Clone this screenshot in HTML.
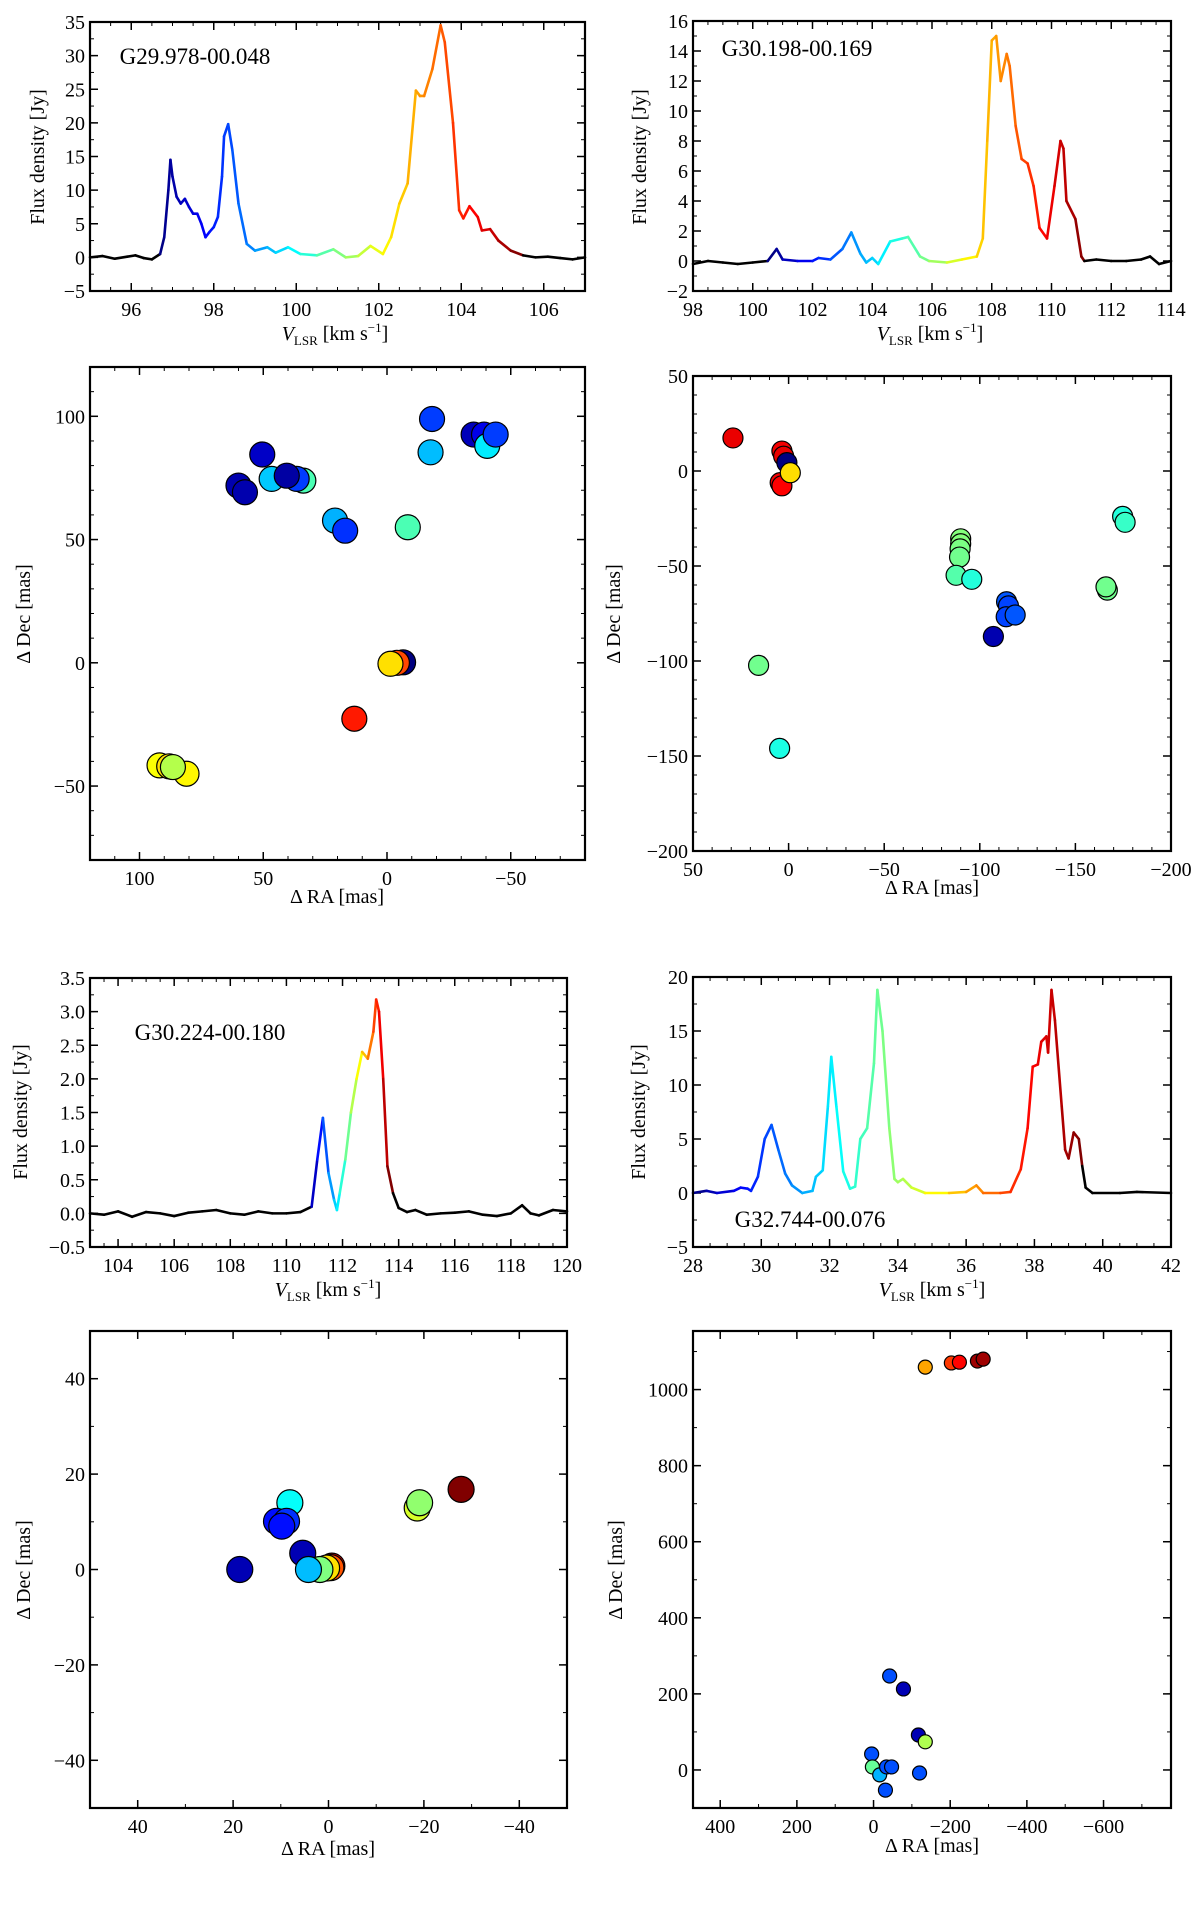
<!DOCTYPE html>
<html><head><meta charset="utf-8"><style>
html,body{margin:0;padding:0;background:#fff;}
svg{display:block;font-family:"Liberation Serif","DejaVu Serif",serif;}
</style></head><body>
<svg id="fig" width="1200" height="1913" viewBox="0 0 1200 1913" xmlns="http://www.w3.org/2000/svg"></svg>
<script>
// ---------- Spectrum data ----------
const spec1V = [95.0,95.3,95.6,95.9,96.1,96.3,96.5,96.7,96.8,96.9,96.95,97.0,97.1,97.2,97.3,97.4,97.5,97.6,97.7,97.8,97.9,98.0,98.1,98.2,98.25,98.35,98.45,98.6,98.8,99.0,99.3,99.5,99.8,100.1,100.5,100.9,101.2,101.5,101.8,102.1,102.3,102.5,102.7,102.9,103.0,103.1,103.3,103.5,103.6,103.8,103.95,104.05,104.2,104.4,104.5,104.7,104.9,105.2,105.5,105.8,106.1,106.4,106.7,107.0];
const spec1F = [0,0.2,-0.2,0.1,0.3,-0.1,-0.3,0.5,3,10,14.5,12,9,8,8.7,7.5,6.5,6.5,5,3,3.8,4.5,6,12,18,19.8,16,8,2,1,1.5,0.7,1.5,0.5,0.3,1.2,0,0.2,1.7,0.5,3,8,11,24.8,24,24,28,34.5,32,20,7,5.8,7.6,6,4,4.2,2.5,1,0.3,0,0.1,-0.1,-0.3,0];
const spec1Range = [96.7,105.4];

const spec2V = [98.0,98.5,99.0,99.5,100.0,100.5,100.8,101.0,101.5,102.0,102.2,102.6,103.0,103.3,103.6,103.8,104.0,104.2,104.6,105.0,105.2,105.6,105.9,106.5,107.0,107.5,107.7,107.85,108.0,108.15,108.3,108.5,108.6,108.8,109.0,109.2,109.4,109.6,109.85,110.1,110.3,110.4,110.5,110.8,111.0,111.1,111.5,112.0,112.5,113.0,113.3,113.6,114.0];
const spec2F = [-0.2,0,-0.1,-0.2,-0.1,0,0.8,0.1,0,0,0.2,0.1,0.8,1.9,0.5,-0.1,0.2,-0.2,1.3,1.5,1.6,0.3,0,-0.1,0.1,0.3,1.5,8,14.7,15,12,13.8,13,9,6.8,6.5,5,2.2,1.5,5,8,7.5,4,2.8,0.3,0,0.1,0,0,0.1,0.3,-0.2,0];
const spec2Range = [100.6,111.1];

const spec3V = [103,103.5,104,104.5,105,105.5,106,106.5,107,107.5,108,108.5,109,109.5,110,110.5,110.9,111.1,111.3,111.5,111.7,111.8,111.9,112.1,112.3,112.5,112.7,112.9,113.1,113.2,113.3,113.45,113.6,113.8,114.0,114.3,114.6,115,115.5,116,116.5,117,117.5,118,118.4,118.7,119,119.5,120];
const spec3F = [0.0,-0.02,0.03,-0.05,0.02,0.0,-0.04,0.01,0.03,0.05,0.0,-0.02,0.03,0.0,0.0,0.02,0.1,0.8,1.42,0.6,0.2,0.05,0.3,0.8,1.5,2.0,2.4,2.3,2.7,3.18,3.0,2.0,0.7,0.3,0.08,0.02,0.05,-0.02,0.0,0.01,0.03,-0.02,-0.04,0.0,0.12,0.0,-0.03,0.05,0.03];
const spec3Range = [110.8,113.7];

const spec4V = [28,28.4,28.7,29.2,29.4,29.6,29.7,29.9,30.1,30.3,30.5,30.7,30.9,31.2,31.5,31.6,31.8,31.95,32.05,32.2,32.4,32.6,32.75,32.9,33.1,33.3,33.4,33.55,33.75,33.9,34.0,34.15,34.4,34.8,35.5,36.0,36.3,36.5,37.0,37.3,37.6,37.8,37.95,38.1,38.2,38.35,38.4,38.5,38.6,38.8,38.9,39.0,39.15,39.3,39.4,39.5,39.7,40.5,41,42];
const spec4F = [0,0.2,0,0.2,0.5,0.4,0.2,1.5,5,6.3,4,1.8,0.7,0,0.2,1.5,2.1,8,12.6,8,2,0.4,0.6,5,6,12,18.8,15,6,1.3,1.0,1.3,0.5,0,0,0.1,0.7,0,0,0.1,2.2,6,11.7,11.9,14,14.5,13,18.8,16,8,4,3.2,5.6,5.0,2.5,0.5,0,0,0.1,0];
const spec4Range = [28.0,39.35];

// ---------- Spot map data (RA offset, Dec offset, velocity) ----------
const map1RA  = [60,57.4,50.4,46.6,33.8,36.5,40.5,21,16.9,-8.4,-18.2,-17.6,-35,-39.2,-40.5,-43.9,-6.5,-4,13.2,91.9,88,81,86.5,-1.4];
const map1Dec = [71.9,69.2,84.5,74.6,73.9,74.6,75.9,57.7,53.6,55,98.9,85.4,92.6,92.6,88,92.6,0.2,0,-22.7,-41.6,-42,-45,-42.3,-0.4];
const map1Vel = [97.1,97.1,97.3,99.5,100.6,98.3,97.0,99.3,98.2,100.6,98.3,99.4,97.2,97.6,99.8,98.3,96.7,103.7,104.1,102.1,102.4,102.2,101.5,102.4];
const map1Range = [96.7,105.4];

const map2RA  = [29.1,3.5,2.6,0.9,4.4,3.5,-0.9,15.7,4.7,-90,-90,-89.7,-89.4,-87.6,-95.8,-107.1,-114,-115,-113.8,-118.5,-166.7,-166,-174.7,-176];
const map2Dec = [17.4,10.5,7.8,4.4,-6.1,-7.8,-0.9,-102.3,-146,-35.7,-38.3,-41,-45.3,-54.9,-57,-87.1,-68.8,-71,-76.7,-75.8,-62.7,-61,-23.9,-27];
const map2Vel = [110.0,109.9,110.0,100.6,109.9,109.8,107.5,105.7,104.8,105.9,105.9,105.8,105.7,105.4,104.9,101.1,102.8,102.6,102.6,102.8,105.7,105.7,104.9,105.1];
const map2Range = [100.6,111.1];

const map3RA  = [18.6,8.1,10.9,8.8,9.8,5.4,-0.7,-0.5,0.4,1.8,4.2,-18.6,-19.1,-27.8];
const map3Dec = [0,14,10.1,10.1,9.1,3.4,0.7,0.4,0.3,0,0,12.9,14,16.8];
const map3Vel = [110.95,111.9,111.2,111.3,111.2,110.95,113.35,113.1,112.7,112.25,111.7,112.5,112.3,113.7];
const map3Range = [110.8,113.7];

const map4RA  = [-42,-78,-117,-135,5,3,-16,-34,-47,-120,-31,-135,-203,-224,-271,-286];
const map4Dec = [247,213,92,74,42,8,-13,8,8,-8,-53,1059,1070,1072,1075,1080];
const map4Vel = [30.3,28.6,28.6,34.2,30.3,33.4,31.4,30.3,30.3,30.3,30.3,36.1,37.3,37.9,39.0,39.0];
const map4Range = [28.0,39.35];

// ---------- helpers ----------
const NS = "http://www.w3.org/2000/svg";
const svg = document.getElementById('fig');
function mk(tag, attrs, parent){ const e=document.createElementNS(NS,tag); for(const k in attrs) e.setAttribute(k,attrs[k]); (parent||svg).appendChild(e); return e; }
function jet(t){ t=Math.max(0,Math.min(1,t)); const c=x=>Math.round(255*Math.max(0,Math.min(1,x)));
  return `rgb(${c(1.5-Math.abs(4*t-3))},${c(1.5-Math.abs(4*t-2))},${c(1.5-Math.abs(4*t-1))})`; }
function fmt(v,dec){ const s=Math.abs(v).toFixed(dec); return (v<0?'\u2212':'')+s; }
function lin(d0,d1,p0,p1){ return v=> p0+(v-d0)/(d1-d0)*(p1-p0); }

function axes(name,box,xr,yr,xMaj,xMin,yMaj,yMin,dec){
  const g=mk('g',{});
  
  
  const X=lin(xr[0],xr[1],box.x0,box.x1), Y=lin(yr[0],yr[1],box.y1,box.y0);
  const tg=mk('g',{stroke:'#000','stroke-width':1},g);
  const inX=v=> (v-Math.min(...xr))>=-1e-9 && (Math.max(...xr)-v)>=-1e-9;
  const inY=v=> (v-Math.min(...yr))>=-1e-9 && (Math.max(...yr)-v)>=-1e-9;
  xMin.forEach(v=>{ if(!inX(v))return; const x=X(v); mk('line',{x1:x,x2:x,y1:box.y1,y2:box.y1-4},tg); mk('line',{x1:x,x2:x,y1:box.y0,y2:box.y0+4},tg);});
  yMin.forEach(v=>{ if(!inY(v))return; const y=Y(v); mk('line',{x1:box.x0,x2:box.x0+4,y1:y,y2:y},tg); mk('line',{x1:box.x1,x2:box.x1-4,y1:y,y2:y},tg);});
  xMaj.forEach(v=>{ if(!inX(v))return; const x=X(v); mk('line',{x1:x,x2:x,y1:box.y1,y2:box.y1-8,'stroke-width':1.5},tg); mk('line',{x1:x,x2:x,y1:box.y0,y2:box.y0+8,'stroke-width':1.5},tg);
    const t=mk('text',{x:x,y:box.y1+25,'text-anchor':'middle','font-size':20},g); t.textContent=fmt(v,0);
     });
  yMaj.forEach(v=>{ if(!inY(v))return; const y=Y(v); mk('line',{x1:box.x0,x2:box.x0+8,y1:y,y2:y,'stroke-width':1.5},tg); mk('line',{x1:box.x1,x2:box.x1-8,y1:y,y2:y,'stroke-width':1.5},tg);
    const t=mk('text',{x:box.x0-5,y:y+7,'text-anchor':'end','font-size':20},g); t.textContent=fmt(v,dec||0);
     });
  return {g,X,Y};
}
function frame(g,box){ const r=mk('rect',{x:box.x0,y:box.y0,width:box.x1-box.x0,height:box.y1-box.y0,fill:'none',stroke:'#000','stroke-width':2.2},g);
    }
function range(a,b,s){ const r=[]; for(let v=a; v<=b+1e-9; v+=s) r.push(Math.round(v*1000)/1000); return r; }
function spectrum(ax,V,F,R){
  const lg=mk('g',{'stroke-width':2.6,'stroke-linecap':'round',fill:'none'},ax.g);
   
  for(let i=0;i<V.length-1;i++){
    const vm=(V[i]+V[i+1])/2;
    const col=(vm>=R[0]&&vm<=R[1])? jet((vm-R[0])/(R[1]-R[0])) : '#000';
    const s=mk('line',{x1:ax.X(V[i]),y1:ax.Y(F[i]),x2:ax.X(V[i+1]),y2:ax.Y(F[i+1]),stroke:col},lg);
    
    
  }
}
function spots(ax,RA,DEC,VEL,R,rad){
  const sg=mk('g',{},ax.g);
   
  for(let i=0;i<RA.length;i++){
    const c=mk('circle',{cx:ax.X(RA[i]),cy:ax.Y(DEC[i]),r:rad,fill:jet((VEL[i]-R[0])/(R[1]-R[0])),stroke:'#000','stroke-width':1.2},sg);
    
    
  }
}
function label(txt,x,y,rot,name,size){
  const t=mk('text',{x:x,y:y,'text-anchor':'middle','font-size':size||20,transform: rot?`rotate(-90 ${x} ${y})`:''});
  t.innerHTML=txt;   return t;
}
const VLSR='<tspan font-style="italic">V</tspan><tspan font-size="13" dy="5">LSR</tspan><tspan dy="-5"> [km s</tspan><tspan font-size="13" dy="-8">−1</tspan><tspan dy="8">]</tspan>';

// Panel 1
let b={x0:90,x1:585,y0:22,y1:291};
let a=axes('spectrum-panel-g29978',b,[95,107],[-5,35],range(96,106,2),range(95,107,0.5),range(-5,35,5),range(-5,35,2.5));
spectrum(a,spec1V,spec1F,spec1Range); frame(a.g,b);
label('G29.978-00.048',195,64,false,'source-name-g29978',23);
label('Flux density [Jy]',44,157,true,'y-axis-title');
label(VLSR,335,340,false,'x-axis-title');

// Panel 2
b={x0:693,x1:1171,y0:21,y1:291};
a=axes('spectrum-panel-g30198',b,[98,114],[-2,16],range(98,114,2),range(98,114,0.5),range(-2,16,2),range(-2,16,1));
spectrum(a,spec2V,spec2F,spec2Range); frame(a.g,b);
label('G30.198-00.169',797,56,false,'source-name-g30198',23);
label('Flux density [Jy]',646,157,true,'y-axis-title');
label(VLSR,930,340,false,'x-axis-title');

// Panel 3
b={x0:90,x1:585,y0:367,y1:860};
a=axes('spot-map-g29978',b,[120,-80],[-80,120],range(-50,100,50),range(-80,120,10),range(-50,100,50),range(-80,120,10));
spots(a,map1RA,map1Dec,map1Vel,map1Range,12.5); frame(a.g,b);
label('Δ Dec [mas]',30,614,true,'y-axis-title');
label('Δ RA [mas]',337,903,false,'x-axis-title');

// Panel 4
b={x0:693,x1:1171,y0:376,y1:851};
a=axes('spot-map-g30198',b,[50,-200],[-200,50],range(-200,50,50),range(-200,50,10),range(-200,50,50),range(-200,50,10));
spots(a,map2RA,map2Dec,map2Vel,map2Range,10); frame(a.g,b);
label('Δ Dec [mas]',620,614,true,'y-axis-title');
label('Δ RA [mas]',932,894,false,'x-axis-title');

// Panel 5
b={x0:90,x1:567,y0:978,y1:1247};
a=axes('spectrum-panel-g30224',b,[103,120],[-0.5,3.5],range(104,120,2),range(103,120,0.5),range(-0.5,3.5,0.5),range(-0.5,3.5,0.25),1);
spectrum(a,spec3V,spec3F,spec3Range); frame(a.g,b);
label('G30.224-00.180',210,1040,false,'source-name-g30224',23);
label('Flux density [Jy]',27,1112,true,'y-axis-title');
label(VLSR,328,1296,false,'x-axis-title');

// Panel 6
b={x0:693,x1:1171,y0:977,y1:1247};
a=axes('spectrum-panel-g32744',b,[28,42],[-5,20],range(28,42,2),range(28,42,0.5),range(-5,20,5),range(-5,20,2.5));
spectrum(a,spec4V,spec4F,spec4Range); frame(a.g,b);
label('G32.744-00.076',810,1227,false,'source-name-g32744',23);
label('Flux density [Jy]',645,1112,true,'y-axis-title');
label(VLSR,932,1296,false,'x-axis-title');

// Panel 7
b={x0:90,x1:567,y0:1331,y1:1808};
a=axes('spot-map-g30224',b,[50,-50],[-50,50],range(-40,40,20),range(-50,50,10),range(-40,40,20),range(-50,50,10));
spots(a,map3RA,map3Dec,map3Vel,map3Range,13); frame(a.g,b);
label('Δ Dec [mas]',30,1570,true,'y-axis-title');
label('Δ RA [mas]',328,1855,false,'x-axis-title');

// Panel 8
b={x0:693,x1:1171,y0:1331,y1:1808};
a=axes('spot-map-g32744',b,[471,-776],[-100,1154],range(-600,400,200),range(-700,400,100),range(0,1000,200),range(-100,1100,100));
spots(a,map4RA,map4Dec,map4Vel,map4Range,7); frame(a.g,b);
label('Δ Dec [mas]',622,1570,true,'y-axis-title');
label('Δ RA [mas]',932,1852,false,'x-axis-title');
</script>
</body></html>
